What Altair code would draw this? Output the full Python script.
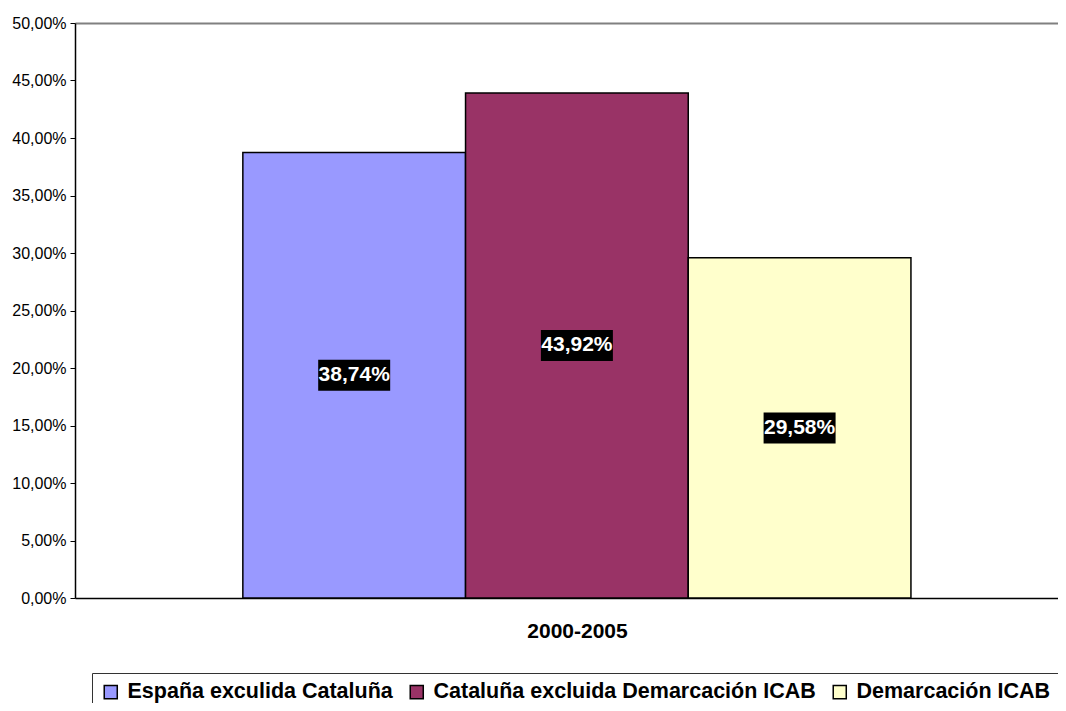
import altair as alt
import pandas as pd

# ---- data ----
series = ["España exculida Cataluña", "Cataluña excluida Demarcación ICAB", "Demarcación ICAB"]
values = [38.74, 43.92, 29.58]
colors = ["#9999FF", "#993366", "#FFFFCC"]
period = "2000-2005"
y_ticks = [0, 5, 10, 15, 20, 25, 30, 35, 40, 45, 50]

df = pd.DataFrame({"serie": series, "valor": values})

FONT = "Liberation Sans"

x_enc = alt.X(
    "serie:N",
    sort=series,
    scale=alt.Scale(paddingInner=0, paddingOuter=0.707, align=0.533),
    axis=alt.Axis(
        labels=False, ticks=False, grid=False,
        domainColor="black", domainWidth=1.5,
        title=period, titleFont=FONT, titleFontSize=21, titleFontWeight="bold",
        titleColor="black", titleX=502, titleY=33, titleBaseline="middle",
        titleAlign="center",
    ),
)

y_scale = alt.Scale(domain=[0, 50], nice=False, zero=True)

bars = alt.Chart(df).mark_bar(stroke="black", strokeWidth=1.5).encode(
    x=x_enc,
    y=alt.Y(
        "valor:Q",
        scale=y_scale,
        axis=alt.Axis(
            values=y_ticks, title=None,
            labelExpr="replace(format(datum.value, '.2f'), '.', ',') + '%'",
            labelFont=FONT, labelFontSize=16, labelColor="black", labelPadding=4,
            tickColor="black", tickSize=5, tickWidth=1,
            domainColor="black", domainWidth=1.5,
            grid=True, gridColor="#808080", gridWidth=2,
            gridOpacity={"expr": "datum.value == 50 ? 1 : 0"},
        ),
    ),
    color=alt.Color(
        "serie:N",
        sort=series,
        scale=alt.Scale(domain=series, range=colors),
        legend=alt.Legend(
            orient="none", legendX=17, legendY=650, direction="horizontal",
            title=None, symbolType="square", symbolSize=170,
            symbolStrokeColor="black", symbolStrokeWidth=1.5,
            labelFont=FONT, labelFontSize=21.5, labelFontWeight="bold",
            labelColor="black", labelOffset=6, labelLimit=0,
            columnPadding=13, padding=8, strokeColor="#333333",
        ),
    ),
)

base_lbl = alt.Chart(df).transform_calculate(
    mid="datum.valor / 2",
    txt="replace(format(datum.valor, '.2f'), '.', ',') + '%'",
)

boxes = base_lbl.mark_point(
    shape="M-1,-0.43L1,-0.43L1,0.43L-1,0.43Z",
    filled=True, fill="black", opacity=1, size=5184, strokeWidth=0,
).encode(
    x=alt.X("serie:N", sort=series),
    y=alt.Y("mid:Q", scale=y_scale),
)

texts = base_lbl.mark_text(
    font=FONT, fontSize=21, fontWeight="bold", color="white",
    align="center", baseline="middle",
).encode(
    x=alt.X("serie:N", sort=series),
    y=alt.Y("mid:Q", scale=y_scale),
    text="txt:N",
)

chart = alt.layer(bars, boxes, texts).properties(
    width=983, height=575,
    padding={"left": 67, "top": 15, "right": 0, "bottom": 105},
    autosize=alt.AutoSizeParams(type="none"),
    background="white",
).configure_view(stroke=None)

chart.save("out.html", embed_options={"renderer": "svg", "actions": False})
